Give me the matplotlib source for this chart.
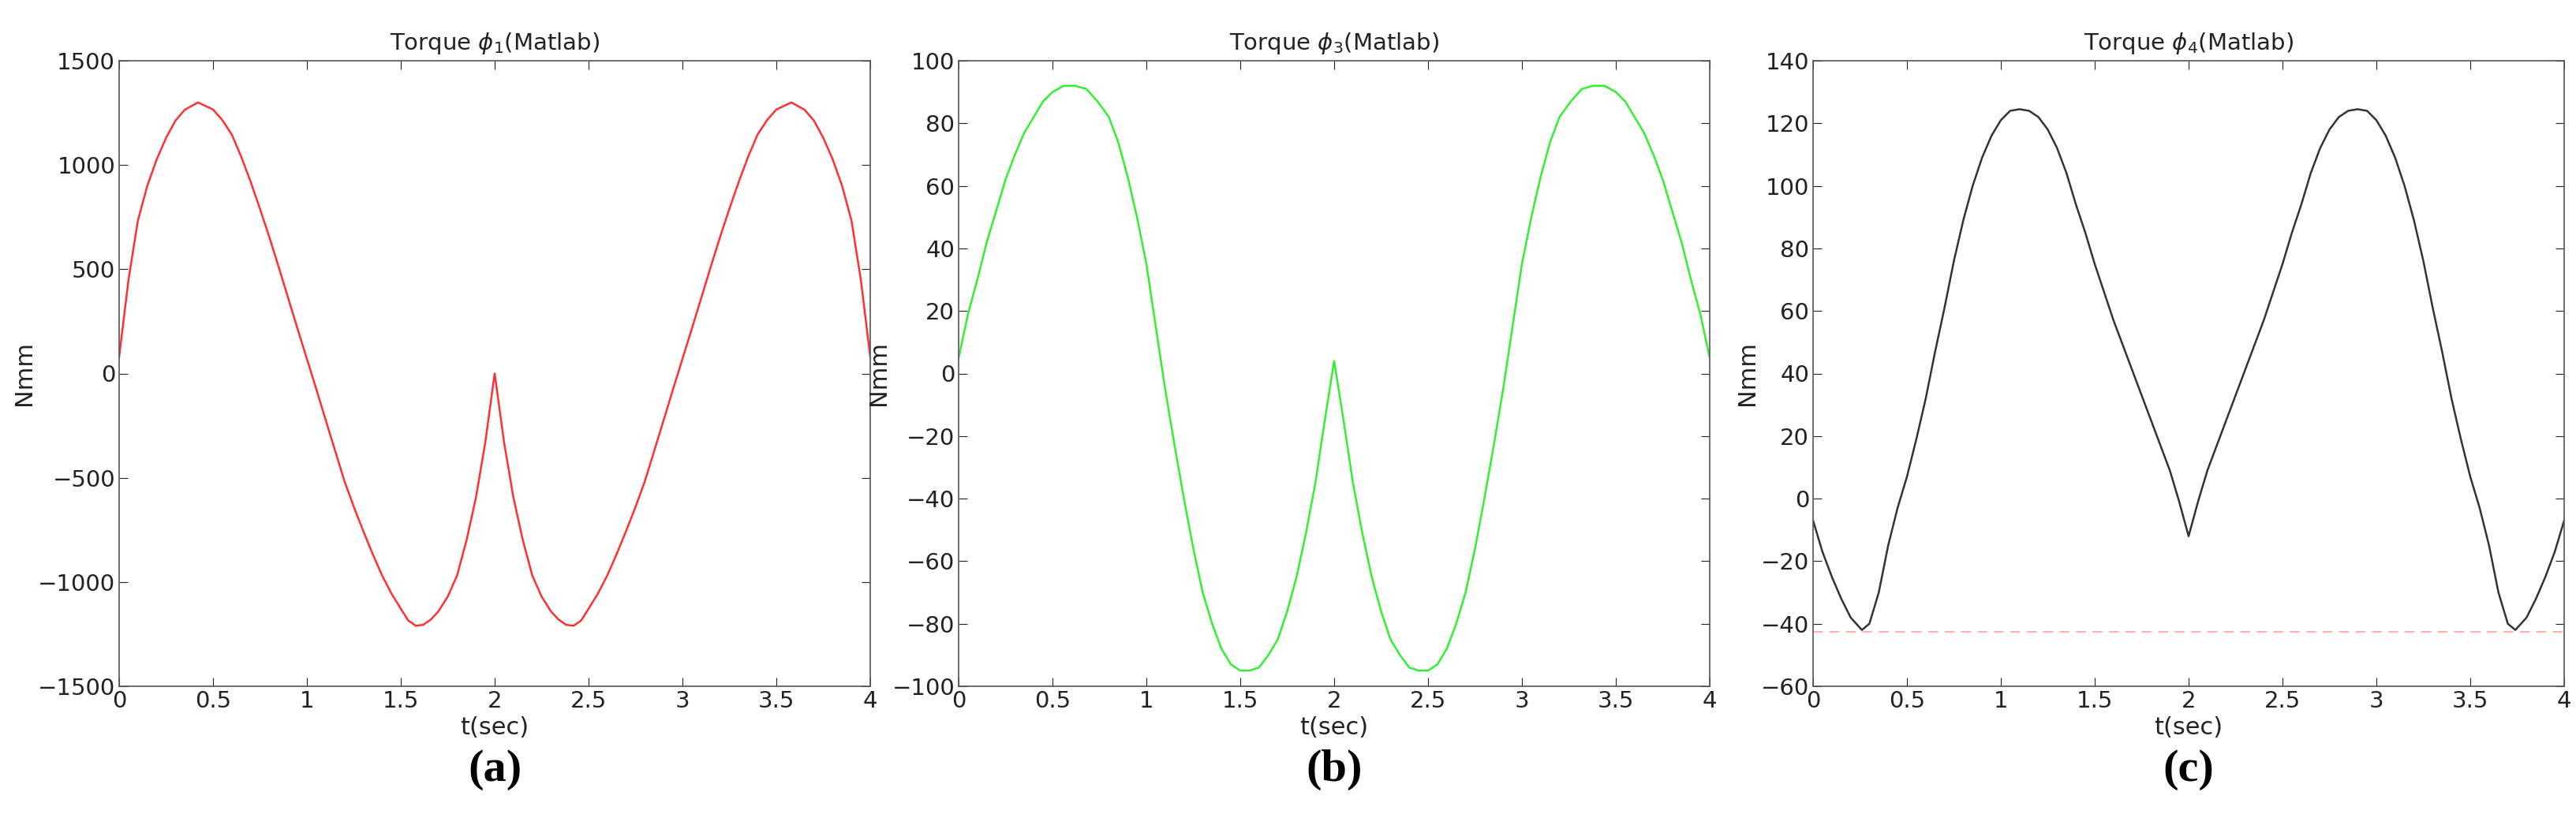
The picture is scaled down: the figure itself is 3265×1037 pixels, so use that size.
import matplotlib
matplotlib.use("Agg")
import matplotlib.pyplot as plt

# first half (0..2 s); curves are mirror-symmetric about t = 2 s
t_a_half = [0, 0.05, 0.1, 0.15, 0.2, 0.25, 0.3, 0.35, 0.42, 0.5, 0.55, 0.6, 0.65, 0.7, 0.75, 0.8, 0.85, 0.9, 0.95, 1.0,
            1.05, 1.1, 1.15, 1.2, 1.25, 1.3, 1.35, 1.4, 1.45, 1.5, 1.54, 1.58, 1.62, 1.66, 1.7, 1.75, 1.8, 1.85, 1.9, 1.95, 2.0]
y_a_half = [80, 450, 734, 900, 1027, 1130, 1213, 1265, 1300, 1266, 1215, 1146, 1040, 920, 790, 654, 510, 362, 215, 70,
            -75, -223, -370, -516, -640, -755, -865, -968, -1055, -1128, -1185, -1210, -1205, -1180, -1141, -1070, -968, -800, -596, -330, 0]

t_b_half = [0, 0.05, 0.1, 0.15, 0.2, 0.25, 0.3, 0.35, 0.4, 0.45, 0.5, 0.56, 0.62, 0.68, 0.74, 0.8, 0.85, 0.9, 0.95, 1.0,
            1.05, 1.1, 1.15, 1.2, 1.25, 1.3, 1.35, 1.4, 1.45, 1.5, 1.55, 1.6, 1.65, 1.7, 1.75, 1.8, 1.85, 1.9, 1.95, 2.0]
y_b_half = [5, 19, 30, 42, 52, 62, 70, 77, 82, 87, 90, 92, 92, 91, 87, 82, 74, 63, 50, 35,
            15, -5, -23, -40, -56, -70, -80, -88, -93, -95, -95, -94, -90, -85, -76, -65, -51, -35, -15, 4]

t_c_half = [0, 0.05, 0.1, 0.15, 0.2, 0.26, 0.3, 0.35, 0.4, 0.45, 0.5, 0.55, 0.6, 0.65, 0.7, 0.75, 0.8, 0.85, 0.9, 0.95, 1.0,
            1.05, 1.1, 1.15, 1.2, 1.25, 1.3, 1.35, 1.4, 1.45, 1.5, 1.55, 1.6, 1.65, 1.7, 1.75, 1.8, 1.85, 1.9, 1.95, 2.0]
y_c_half = [-7, -17, -25, -32, -38, -42, -40, -30, -15, -3, 7, 19, 32, 47, 61, 76, 89, 100, 109, 116, 121,
            124, 124.5, 124, 122, 118, 112, 104, 94, 85, 75, 66, 57, 49, 41, 33, 25, 17, 9, -1, -12]
ref_c = -42.5


def full(t_half, y_half):
    t = list(t_half) + [4 - v for v in reversed(t_half[:-1])]
    y = list(y_half) + list(reversed(y_half[:-1]))
    return t, y


titles = [r"Torque $\phi_1$(Matlab)", r"Torque $\phi_3$(Matlab)", r"Torque $\phi_4$(Matlab)"]
letters = ["(a)", "(b)", "(c)"]
ylims = [(-1500, 1500), (-100, 100), (-60, 140)]
yticks = [list(range(-1500, 1501, 500)), list(range(-100, 101, 20)), list(range(-60, 141, 20))]
xticks = [0, 0.5, 1, 1.5, 2, 2.5, 3, 3.5, 4]
xticklabels = ["0", "0.5", "1", "1.5", "2", "2.5", "3", "3.5", "4"]

W, H = 3265, 1037
fig = plt.figure(figsize=(W / 100, H / 100), dpi=100)
plt.rcParams['mathtext.fontset'] = 'dejavusans'
lefts = [151, 1215, 2298]
width = 952
top, bottom = 77, 870
series = [(*full(t_a_half, y_a_half), "#ff3030"), (*full(t_b_half, y_b_half), "#33ee33"),
          (*full(t_c_half, y_c_half), "#333333")]
for i in range(3):
    ax = fig.add_axes([lefts[i] / W, 1 - bottom / H, width / W, (bottom - top) / H])
    t, y, c = series[i]
    ax.plot(t, y, color=c, lw=1.8, solid_joinstyle="round")
    if i == 2:
        ax.axhline(ref_c, color="#ffb0b0", lw=1.5, ls=(0, (6, 4)))
    ax.set_xlim(0, 4)
    ax.set_ylim(*ylims[i])
    ax.set_yticks(yticks[i])
    ax.set_xticks(xticks)
    ax.set_xticklabels(xticklabels)
    ax.tick_params(labelsize=21, colors="#222222", direction="in", length=8, top=True, right=True)
    for s in ax.spines.values():
        s.set_color("#555555")
        s.set_linewidth(1.2)
    ax.set_title(titles[i], fontsize=21, color="#222222", pad=10)
    ax.set_xlabel("t(sec)", fontsize=22, color="#222222", labelpad=4)
    ax.set_ylabel("Nmm", fontsize=22, color="#222222", labelpad=2)
    fig.text((lefts[i] + width / 2) / W, 1 - 990 / H, letters[i], fontsize=42,
             family="Liberation Serif", weight="bold", ha="center", va="baseline")

fig.savefig("out.png", dpi=100, facecolor="white")
